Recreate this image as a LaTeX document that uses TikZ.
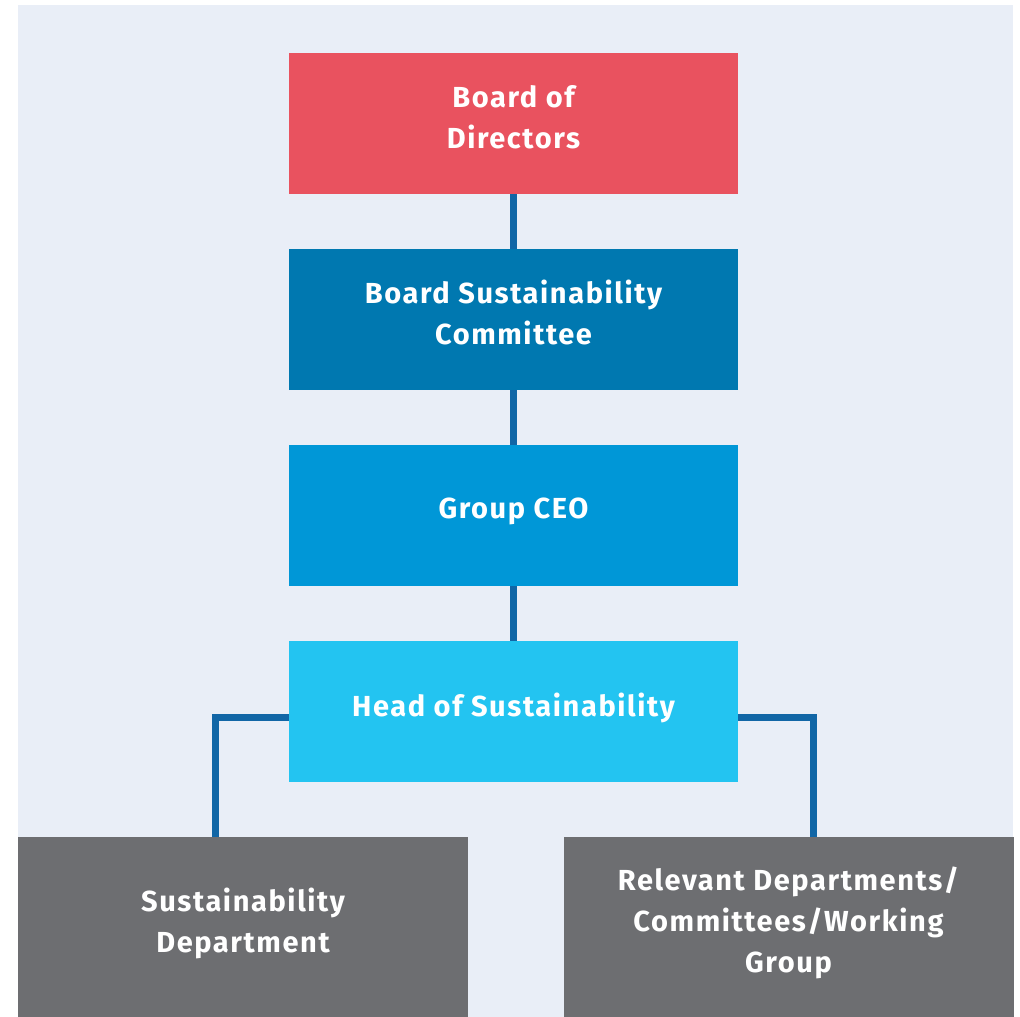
\documentclass[tikz,border=0pt]{standalone}
\usepackage{fontspec}
\setmainfont{Fira Sans}
\newfontfamily\boxfont{Fira Sans}[LetterSpace=5.5]
\usepackage{tikz}
\usetikzlibrary{positioning}
\definecolor{boardred}{HTML}{E9525F}
\definecolor{committeeblue}{HTML}{0078B0}
\definecolor{ceoblue}{HTML}{0097D7}
\definecolor{headblue}{HTML}{23C4F1}
\definecolor{deptgray}{HTML}{6D6E71}
\definecolor{linkblue}{HTML}{1166A6}
\definecolor{pagebg}{HTML}{E9EEF7}
\tikzstyle{level} = [rectangle, 
minimum width=449pt, 
minimum height=141pt,
text centered, 
align=center,
text=white,
font=\boxfont\fontsize{29}{41}\selectfont\bfseries,
text depth=14pt,
inner sep=0pt]
\tikzstyle{unit} = [level, 
minimum width=450pt, 
minimum height=180pt,
fill=deptgray]
\tikzstyle{link} = [line width=7pt, draw=linkblue]

\begin{document}
\begin{tikzpicture}[x=1pt, y=-1pt, node distance=196pt]
\useasboundingbox (0,0) rectangle (1020,1017);
\fill[pagebg] (18,5) rectangle (1013,1017);

\node (board) [level, fill=boardred] at (513.5,123.5) {Board of\\Directors};
\node (committee) [level, fill=committeeblue, below of=board] {Board Sustainability\\Committee};
\node (ceo) [level, fill=ceoblue, below of=committee] {Group CEO};
\node (head) [level, fill=headblue, below of=ceo] {Head of Sustainability};

\node (susdept) [unit] at (243,927) {Sustainability\\Department};
\node (relevant) [unit] at (788.5,927) {Relevant Departments/\\Committees/Working\\Group};

\draw [link] (board) -- (committee);
\draw [link] (committee) -- (ceo);
\draw [link] (ceo) -- (head);

\draw [link] ([yshift=-6pt]head.west) -| ([xshift=-28pt]susdept.north);
\draw [link] ([yshift=-6pt]head.east) -| ([xshift=24.5pt]relevant.north);

\end{tikzpicture}
\end{document}
